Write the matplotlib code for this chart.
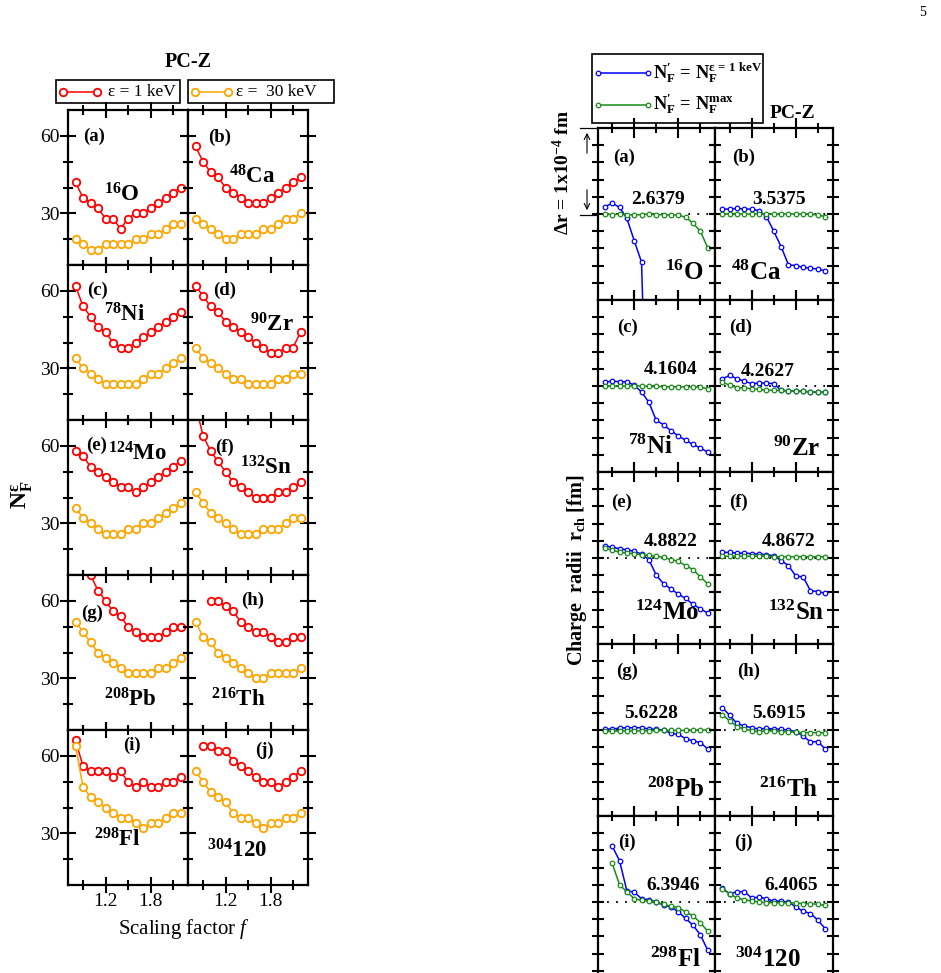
import numpy as np
import matplotlib

matplotlib.use("Agg")
import matplotlib.pyplot as plt
from matplotlib.patches import Rectangle

plt.rcParams["font.family"] = ["Liberation Serif", "DejaVu Serif"]
plt.rcParams["mathtext.fontset"] = "custom"
plt.rcParams["mathtext.rm"] = "Liberation Serif"
plt.rcParams["mathtext.it"] = "Liberation Serif:italic"
plt.rcParams["mathtext.bf"] = "Liberation Serif:bold"

W, H = 941, 973
nan = np.nan

# ---- data -------------------------------------------------------------
SCALING_F = [0.8, 0.9, 1.0, 1.1, 1.2, 1.3, 1.4, 1.5, 1.6, 1.7, 1.8, 1.9, 2.0, 2.1, 2.2]
PANELS = ["(a)", "(b)", "(c)", "(d)", "(e)", "(f)", "(g)", "(h)", "(i)", "(j)"]
MASS = ["16", "48", "78", "90", "124", "132", "208", "216", "298", "304"]
SYMBOL = ["O", "Ca", "Ni", "Zr", "Mo", "Sn", "Pb", "Th", "Fl", "120"]
R_REF = [2.6379, 3.5375, 4.1604, 4.2627, 4.8822, 4.8672, 5.6228, 5.6915, 6.3946, 6.4065]

# N_F^eps, eps = 1 keV
nf1_O16 = [42, 36, 34, 32, 28, 28, 24, 28, 30, 30, 32, 34, 36, 38, 40]
nf1_Ca48 = [56, 50, 46, 44, 40, 38, 36, 34, 34, 34, 36, 38, 40, 42, 44]
nf1_Ni78 = [62, 54, 50, 46, 44, 40, 38, 38, 40, 42, 44, 46, 48, 50, 52]
nf1_Zr90 = [62, 58, 54, 52, 48, 46, 44, 42, 40, 38, 36, 36, 38, 38, 44]
nf1_Mo124 = [58, 56, 52, 50, 48, 46, 44, 44, 42, 44, 46, 48, 50, 52, 54]
nf1_Sn132 = [76, 64, 58, 54, 50, 46, 44, 42, 40, 40, 40, 42, 42, 44, 46]
nf1_Pb208 = [nan, nan, 70, 64, 60, 56, 54, 50, 48, 46, 46, 46, 48, 50, 50]
nf1_Th216 = [nan, nan, 60, 60, 58, 56, 52, 50, 48, 48, 46, 44, 44, 46, 46]
nf1_Fl298 = [66, 56, 54, 54, 54, 52, 54, 50, 48, 50, 48, 48, 50, 50, 52]
nf1_X304 = [nan, 64, 64, 62, 62, 58, 56, 54, 52, 50, 50, 48, 50, 52, 54]

# N_F^eps, eps = 30 keV
nf30_O16 = [20, 18, 16, 16, 18, 18, 18, 18, 20, 20, 22, 22, 24, 26, 26]
nf30_Ca48 = [28, 26, 24, 22, 20, 20, 22, 22, 22, 24, 24, 26, 28, 28, 30]
nf30_Ni78 = [34, 30, 28, 26, 24, 24, 24, 24, 24, 26, 28, 28, 30, 32, 34]
nf30_Zr90 = [38, 34, 32, 30, 28, 26, 26, 24, 24, 24, 24, 26, 26, 28, 28]
nf30_Mo124 = [36, 32, 30, 28, 26, 26, 26, 28, 28, 30, 30, 32, 34, 36, 38]
nf30_Sn132 = [42, 38, 34, 32, 30, 28, 26, 26, 26, 28, 28, 28, 30, 32, 32]
nf30_Pb208 = [52, 48, 44, 40, 38, 36, 34, 32, 32, 32, 32, 34, 34, 36, 38]
nf30_Th216 = [52, 46, 44, 40, 38, 36, 34, 32, 30, 30, 32, 32, 32, 32, 34]
nf30_Fl298 = [64, 48, 44, 42, 40, 38, 36, 36, 34, 32, 34, 34, 36, 38, 38]
nf30_X304 = [54, 50, 46, 44, 42, 38, 36, 36, 34, 32, 34, 34, 36, 36, 38]

# r_ch - r_ref in units of 1e-4 fm, N'_F = N_F^(eps = 1 keV)
dr1_O16 = [0.084, 0.126, 0.077, -0.05, -0.31, -0.56, -3.6, nan, nan, nan, nan, nan, nan, nan, nan]
dr1_Ca48 = [0.057, 0.057, 0.065, 0.057, 0.057, 0.038, -0.03, -0.2, -0.38, -0.59, -0.6, -0.62, -0.63, -0.64, -0.66]
dr1_Ni78 = [0.046, 0.057, 0.05, 0.05, 0.008, -0.07, -0.19, -0.4, -0.45, -0.52, -0.58, -0.63, -0.68, -0.72, -0.77]
dr1_Zr90 = [0.084, 0.123, 0.084, 0.057, 0.027, 0.034, 0.034, 0.027, -0.05, -0.057, -0.057, -0.061, -0.069, -0.073, -0.073]
dr1_Mo124 = [0.14, 0.126, 0.107, 0.096, 0.077, 0.046, -0.019, -0.2, -0.3, -0.36, -0.42, -0.47, -0.54, -0.59, -0.64]
dr1_Sn132 = [0.065, 0.065, 0.057, 0.057, 0.05, 0.046, 0.038, 0.027, -0.03, -0.088, -0.21, -0.22, -0.38, -0.39, -0.41]
dr1_Pb208 = [0.011, 0.011, 0.023, 0.027, 0.027, 0.027, 0.011, 0.008, 0.0, -0.038, -0.05, -0.1, -0.126, -0.146, -0.22]
dr1_Th216 = [0.26, 0.17, 0.077, 0.046, 0.027, 0.011, 0.019, 0.011, 0.008, 0.0, -0.019, -0.069, -0.14, -0.134, -0.22]
dr1_Fl298 = [nan, 0.65, 0.48, 0.13, 0.115, 0.038, 0.027, 0.0, -0.038, -0.057, -0.115, -0.19, -0.27, -0.38, -0.56]
dr1_X304 = [0.16, 0.096, 0.12, 0.12, 0.046, 0.057, 0.038, 0.011, 0.008, 0.0, -0.057, -0.107, -0.134, -0.21, -0.31]

# r_ch - r_ref in units of 1e-4 fm, N'_F = N_F^max
drmax_O16 = [0.0, -0.008, 0.0, -0.011, -0.008, -0.008, 0.0, -0.008, -0.008, -0.011, -0.011, -0.038, -0.107, -0.2, -0.39]
drmax_Ca48 = [0.0, 0.0, 0.0, 0.0, 0.0, 0.0, 0.0, 0.0, 0.0, 0.0, 0.0, 0.0, -0.005, -0.01, -0.03]
drmax_Ni78 = [0.0, 0.0, 0.0, 0.0, 0.0, 0.0, -0.005, -0.005, -0.008, -0.008, -0.01, -0.01, -0.01, -0.015, -0.03]
drmax_Zr90 = [0.046, 0.008, -0.019, -0.023, -0.031, -0.038, -0.05, -0.05, -0.05, -0.057, -0.057, -0.061, -0.069, -0.073, -0.073]
drmax_Mo124 = [0.115, 0.088, 0.069, 0.057, 0.05, 0.038, 0.031, 0.019, 0.008, -0.019, -0.038, -0.088, -0.134, -0.22, -0.3]
drmax_Sn132 = [0.02, 0.02, 0.02, 0.02, 0.02, 0.02, 0.02, 0.015, 0.015, 0.015, 0.015, 0.015, 0.015, 0.015, 0.015]
drmax_Pb208 = [-0.015, -0.015, -0.01, -0.01, -0.01, -0.01, -0.01, -0.005, -0.005, -0.005, -0.005, -0.005, -0.005, 0.0, 0.0]
drmax_Th216 = [0.18, 0.107, 0.038, 0.011, -0.008, -0.019, -0.011, -0.011, -0.019, -0.019, -0.027, -0.03, -0.03, -0.03, -0.03]
drmax_Fl298 = [nan, 0.45, 0.2, 0.12, 0.038, 0.019, 0.011, 0.0, -0.027, -0.05, -0.065, -0.115, -0.16, -0.24, -0.34]
drmax_X304 = [0.15, 0.096, 0.046, 0.027, 0.011, 0.0, -0.008, -0.008, -0.008, -0.011, -0.011, -0.019, -0.019, -0.027, -0.038]

NF_1KEV = [nf1_O16, nf1_Ca48, nf1_Ni78, nf1_Zr90, nf1_Mo124,
           nf1_Sn132, nf1_Pb208, nf1_Th216, nf1_Fl298, nf1_X304]
NF_30KEV = [nf30_O16, nf30_Ca48, nf30_Ni78, nf30_Zr90, nf30_Mo124,
            nf30_Sn132, nf30_Pb208, nf30_Th216, nf30_Fl298, nf30_X304]
DR_1KEV = [dr1_O16, dr1_Ca48, dr1_Ni78, dr1_Zr90, dr1_Mo124,
           dr1_Sn132, dr1_Pb208, dr1_Th216, dr1_Fl298, dr1_X304]
DR_MAX = [drmax_O16, drmax_Ca48, drmax_Ni78, drmax_Zr90, drmax_Mo124,
          drmax_Sn132, drmax_Pb208, drmax_Th216, drmax_Fl298, drmax_X304]

RED, ORANGE, BLUE, GREEN = "#ff0000", "#ffa500", "#0000ff", "#178c17"

# ---- layout helpers (pixel boxes, y from top) -------------------------
fig = plt.figure(figsize=(W / 100, H / 100), dpi=100)


def px_axes(x0, y0, w, h):
    return fig.add_axes([x0 / W, 1 - (y0 + h) / H, w / W, h / H])


def nucleus(i):
    return "$^{\\mathbf{%s}}$%s" % (MASS[i], SYMBOL[i])


# left block: N_F^eps vs scaling factor
for i in range(10):
    r, c = divmod(i, 2)
    ax = px_axes(68 + c * 120, 110 + r * 155, 120, 155)
    ax.plot(SCALING_F, NF_1KEV[i], color=RED, lw=1.1, marker="o", ms=5.4,
            mfc="white", mew=1.3)
    ax.plot(SCALING_F, NF_30KEV[i], color=ORANGE, lw=1.1, marker="o", ms=5.4,
            mfc="white", mew=1.3)
    ax.set_xlim(0.7, 2.3)
    ax.set_ylim(10, 70)
    ax.set_xticks([1.2, 1.8])
    ax.set_xticks([0.9, 1.5, 2.1], minor=True)
    ax.set_yticks([30, 60])
    ax.set_yticks([20, 40, 50], minor=True)
    ax.tick_params(which="both", direction="inout", top=True, right=True,
                   width=1.5, labelsize=14, pad=0.5,
                   labelleft=(c == 0), labelbottom=(r == 4))
    ax.tick_params(which="major", length=11)
    ax.tick_params(which="minor", length=7)
    for s in ax.spines.values():
        s.set_linewidth(1.6)

# right block: charge radii deviations
for i in range(10):
    r, c = divmod(i, 2)
    ax = px_axes(597.5 + c * 117.5, 128 + r * 172, 117.5, 172)
    ax.axhline(0, color="k", lw=1.3, ls=(0, (1, 4)), zorder=1)
    ax.plot(SCALING_F, DR_1KEV[i], color=BLUE, lw=1.1, marker="o", ms=3.3,
            mfc="white", mew=0.9, zorder=2)
    ax.plot(SCALING_F, DR_MAX[i], color=GREEN, lw=1.1, marker="o", ms=3.3,
            mfc="white", mew=0.9, zorder=3)
    ax.set_xlim(0.7, 2.3)
    ax.set_ylim(-1, 1)
    ax.set_xticks([1.2, 1.8])
    ax.set_xticks([0.9, 1.5, 2.1], minor=True)
    ax.set_yticks([-0.8, -0.6, -0.4, -0.2, 0.0, 0.2, 0.4, 0.6, 0.8])
    ax.tick_params(which="both", direction="inout", top=True, right=True,
                   width=1.5, labelleft=False, labelbottom=False)
    ax.tick_params(axis="x", which="major", length=14)
    ax.tick_params(axis="x", which="minor", length=7)
    ax.tick_params(axis="y", which="major", length=8)
    for s in ax.spines.values():
        s.set_linewidth(1.6)

# ---- annotations in pixel coordinates ---------------------------------
ov = fig.add_axes([0, 0, 1, 1])
ov.set_xlim(0, W)
ov.set_ylim(H, 0)
ov.axis("off")

left_tag = [(94, 136), (220, 137), (98, 290), (225, 290), (97, 445),
            (225, 447), (92, 613), (253, 600), (132, 745), (264, 750)]
left_nuc = [(122, 195), (252, 177), (125, 315), (272, 325), (137, 454),
            (266, 468), (130, 700), (238, 700), (117, 840), (237, 851)]
right_tag = [(624, 157), (744, 157), (628, 327), (741, 327), (622, 502),
             (739, 502), (627, 671), (749, 671), (627, 842), (743, 842)]
right_num = [(658, 200), (779, 200), (671, 370), (768, 371), (671, 542),
             (789, 542), (651, 713), (779, 713), (673, 885), (791, 885)]
right_nuc = [(684, 273), (756, 273), (650, 447), (797, 449), (667, 613),
             (796, 613), (676, 790), (789, 790), (675, 960), (768, 960)]

bold = dict(fontweight="bold", ha="center", va="center")
for i in range(10):
    ov.text(*left_tag[i], PANELS[i], fontsize=13.5, **bold)
    ov.text(*left_nuc[i], nucleus(i), fontsize=16.5, **bold)
    ov.text(*right_tag[i], PANELS[i], fontsize=13.5, **bold)
    ov.text(*right_num[i], f"{R_REF[i]:.4f}", fontsize=14, **bold)
    ov.text(*right_nuc[i], nucleus(i), fontsize=18, **bold)

ov.text(188, 62, "PC-Z", fontsize=14.5, **bold)
ov.text(792, 113, "PC-Z", fontsize=14, **bold)
ov.text(923, 12, "5", fontsize=10, ha="center", va="center")

# left legend: two boxes
ov.add_patch(Rectangle((56, 80), 124, 23, fill=False, lw=1.2, ec="k"))
ov.add_patch(Rectangle((188, 80), 146, 23, fill=False, lw=1.2, ec="k"))
ov.plot([63, 97], [92, 92], color=RED, lw=1.1, marker="o", ms=5.4,
        mfc="white", mew=1.3)
ov.plot([195, 228], [92, 92], color=ORANGE, lw=1.1, marker="o", ms=5.4,
        mfc="white", mew=1.3)
ov.text(108, 92, "ε = 1 keV", fontsize=12.5, va="center")
ov.text(236, 92, "ε =  30 keV", fontsize=12.5, va="center")

# right legend
ov.add_patch(Rectangle((592, 54), 171, 69, fill=False, lw=1.2, ec="k"))
ov.plot([598, 648], [73, 73], color=BLUE, lw=1.1, marker="o", ms=3.3,
        mfc="white", mew=0.9)
ov.plot([598, 648], [105, 105], color=GREEN, lw=1.1, marker="o", ms=3.3,
        mfc="white", mew=0.9)
ov.text(653, 73, r"$\mathbf{N^{\prime}_{F}\,=\,N_{F}^{ε\,=\,1\ keV}}$",
        fontsize=13.3, va="center")
ov.text(653, 104, r"$\mathbf{N^{\prime}_{F}\,=\,N_{F}^{max}}$",
        fontsize=13.3, va="center")

# axis titles
ov.text(22, 495, r"N$_{\mathbf{F}}^{\mathbf{ε}}$", fontsize=17, rotation=90, **bold)
ov.text(184, 929, r"Scaling factor $f$", fontsize=15, ha="center", va="center")
ov.text(563, 172, r"Δr = 1x10$^{\mathbf{-4}}$ fm", fontsize=14, rotation=90, **bold)
ov.text(577, 570, r"Charge  radii  r$_{\mathbf{ch}}$ [fm]", fontsize=14.5,
        rotation=90, **bold)

# delta-r scale bar
ov.plot([580, 597], [128, 128], color="k", lw=0.9)
ov.plot([580, 597], [215, 215], color="k", lw=0.9)
ov.annotate("", xy=(587, 130), xytext=(587, 156),
            arrowprops=dict(arrowstyle="->", lw=0.8, color="k"))
ov.annotate("", xy=(587, 213), xytext=(587, 187),
            arrowprops=dict(arrowstyle="->", lw=0.8, color="k"))

fig.savefig("out.png", dpi=100)
